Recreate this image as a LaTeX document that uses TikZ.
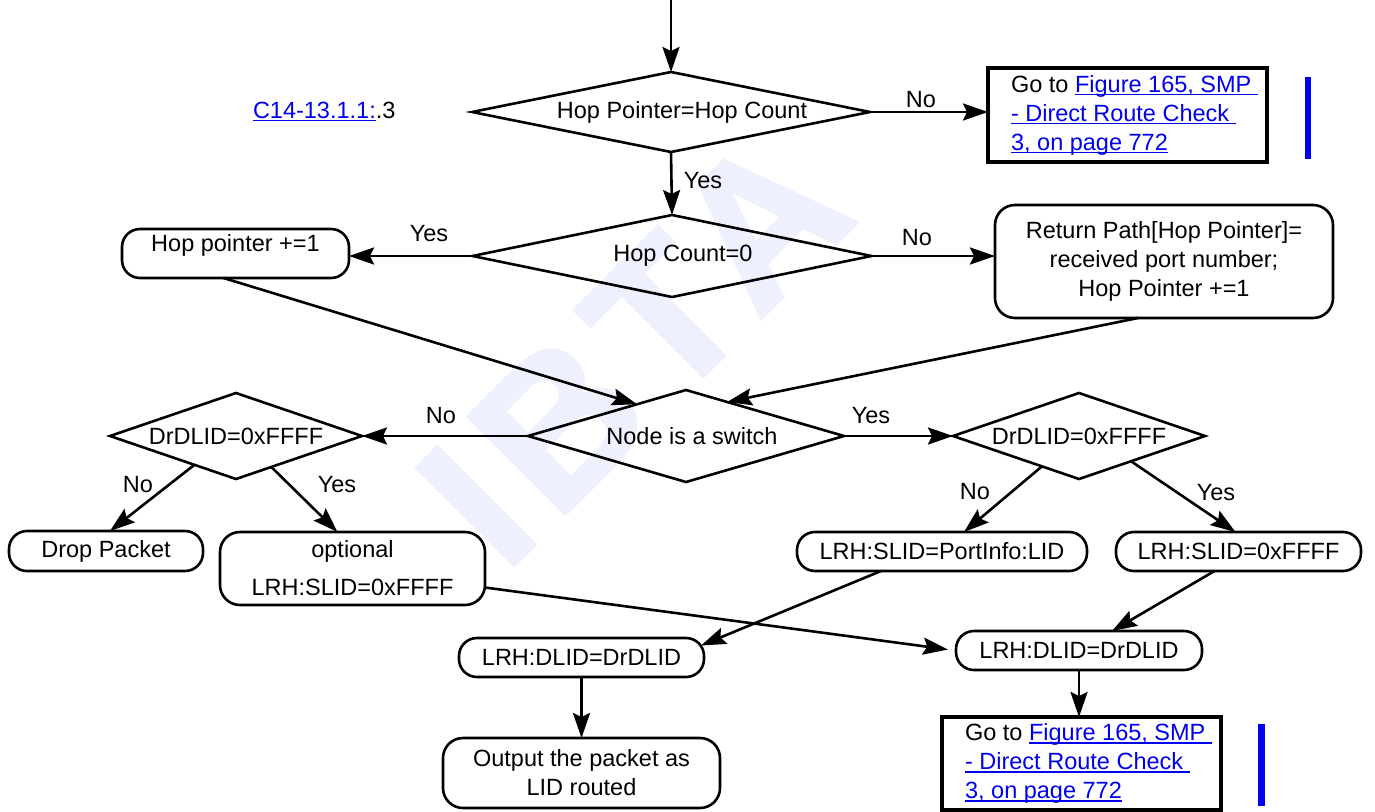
\documentclass[tikz,border=0pt]{standalone}
\usepackage{fontspec}
\setmainfont{Liberation Sans}
\usetikzlibrary{shapes.geometric,arrows.meta,calc}
\definecolor{linkblue}{RGB}{0,0,238}
\definecolor{barblue}{RGB}{0,0,245}
\definecolor{wmcol}{RGB}{238,240,253}
\newsavebox{\lnkbox}
\newcommand{\lnk}[1]{\textcolor{linkblue}{\sbox{\lnkbox}{#1}\rlap{\rule[-3pt]{\wd\lnkbox}{1.3pt}}\usebox{\lnkbox}}}
\begin{document}
\begin{tikzpicture}[x=1pt,y=-1pt,
  every node/.style={font=\fontsize{23.5}{29}\selectfont, inner sep=0pt, outer sep=0pt},
  arr/.style={line width=2.6pt, -{Stealth[length=25pt,width=17pt,inset=4pt]}},
  dia/.style={draw, line width=2.6pt, shape=diamond, aspect=#1},
  rbox/.style={draw, line width=2.6pt, rounded corners=18pt, align=center},
  gobox/.style={draw, line width=3.6pt, align=left, minimum width=279pt, minimum height=94pt}]
\useasboundingbox (0,0) rectangle (1375,811);
% watermark
\node[font=\fontsize{200}{200}\selectfont\bfseries\addfontfeature{LetterSpace=8.5,FakeBold=2}, text=wmcol, rotate=45] (wmark) at (634,348) {IBTA};
% change bars
\fill[barblue] (1305,77) rectangle (1311,159);
\fill[barblue] (1258,724) rectangle (1265,806);
% reference label
\node[anchor=base west] (ref) at (253,118) {\lnk{C14-13.1.1:}.3};
% nodes
\coordinate (start) at (671,0);
\node[dia=4.975, minimum width=398pt, minimum height=80pt] (d1) at (671,112) {\hspace*{22pt}Hop Pointer=Hop Count};
\node[gobox] (g1) at (1127.5,115) {\hspace*{14pt}Go to \lnk{Figure 165, SMP\ }\\\hspace*{14pt}\lnk{- Direct Route Check\ }\\\hspace*{14pt}\lnk{3, on page 772}};
\node[dia=4.87, minimum width=399pt, minimum height=82pt] (d2) at (672,256) {\hspace*{22pt}Hop Count=0};
\node[rbox, minimum width=227pt, minimum height=49pt, text height=17pt, text depth=22pt] (hp) at (235.5,253.5) {Hop pointer +=1};
\node[rbox, rounded corners=20pt, minimum width=338pt, minimum height=113pt] (rp) at (1164,261.5) {Return Path[Hop Pointer]=\\received port number;\\Hop Pointer +=1};
\node[dia=3.43, minimum width=316pt, minimum height=92pt] (d3) at (686,436) {\hspace*{12pt}Node is a switch};
\node[dia=2.93, minimum width=252pt, minimum height=86pt] (dl) at (236,436) {DrDLID=0xFFFF};
\node[dia=2.93, minimum width=252pt, minimum height=86pt] (dr) at (1079,436) {DrDLID=0xFFFF};
\node[rbox, minimum width=194pt, minimum height=40pt] (drop) at (106,551) {Drop Packet};
\node[rbox, rounded corners=20pt, minimum width=265pt, minimum height=73pt] (opt) at (352.5,568.5) {optional\\[9pt]LRH:SLID=0xFFFF};
\node[rbox, minimum width=290pt, minimum height=39pt] (pi) at (942,551.5) {LRH:SLID=PortInfo:LID};
\node[rbox, minimum width=245pt, minimum height=39pt] (sf) at (1238.5,551.5) {LRH:SLID=0xFFFF};
\node[rbox, minimum width=245pt, minimum height=39pt] (dll) at (581.5,657.5) {LRH:DLID=DrDLID};
\node[rbox, minimum width=246pt, minimum height=39pt] (dlr) at (1079,650.5) {LRH:DLID=DrDLID};
\node[rbox, rounded corners=20pt, minimum width=277pt, minimum height=70pt] (out) at (581.5,773) {Output the packet as\\LID routed};
\node[gobox, minimum height=93pt] (g2) at (1081.5,763.5) {\hspace*{14pt}Go to \lnk{Figure 165, SMP\ }\\\hspace*{14pt}\lnk{- Direct Route Check\ }\\\hspace*{14pt}\lnk{3, on page 772}};
% connectors
\draw[arr] (start) -- (d1.north);
\draw[arr] (d1.east) -- (d1.east -| g1.west);
\draw[arr] (d1.south) -- (d2.north);
\draw[arr] (d2.west) -- (d2.west -| hp.east);
\draw[arr] (d2.east) -- (d2.east -| rp.west);
\draw[arr] ($(hp.south)+(-12,0)$) -- ($(d3.west)!0.69!(d3.north)$);
\draw[arr] ($(rp.south)+(-26,0)$) -- ($(d3.north)!0.26!(d3.east)$);
\draw[arr] (d3.west) -- (d3.west -| dl.east);
\draw[arr] (d3.east) -- (d3.east -| dr.west);
\draw[arr] ($(dl.west)!0.67!(dl.south)$) -- ($(drop.north)+(4,0)$);
\draw[arr] ($(dl.south)!0.28!(dl.east)$) -- ($(opt.north)+(-15,0)$);
\draw[arr] ($(dr.west)!0.706!(dr.south)$) -- ($(pi.north)+(22,0)$);
\draw[arr] ($(dr.south)!0.413!(dr.east)$) -- ($(sf.north)+(-3,0)$);
\draw[arr] ($(pi.south)+(-61,0)$) -- ($(dll.east)+(-3,-12)$);
\draw[arr] ($(sf.south)+(-24,0)$) -- ($(dlr.north)+(33,0)$);
\draw[arr] ($(opt.east)+(0,19)$) -- ($(dlr.west)+(-8,-1)$);
\draw[arr] (dll.south) -- (out.north);
\draw[arr] (dlr.south) -- (dlr.south |- g2.north);
% branch labels
\node (l1) at (921,100) {No};
\node (l2) at (703,181) {Yes};
\node (l3) at (429,234) {Yes};
\node (l4) at (917,238) {No};
\node (l5) at (441,416) {No};
\node (l6) at (871,416) {Yes};
\node (l7) at (138,485) {No};
\node (l8) at (337,485) {Yes};
\node (l9) at (975,492) {No};
\node (l10) at (1216,493) {Yes};
\end{tikzpicture}
\end{document}
